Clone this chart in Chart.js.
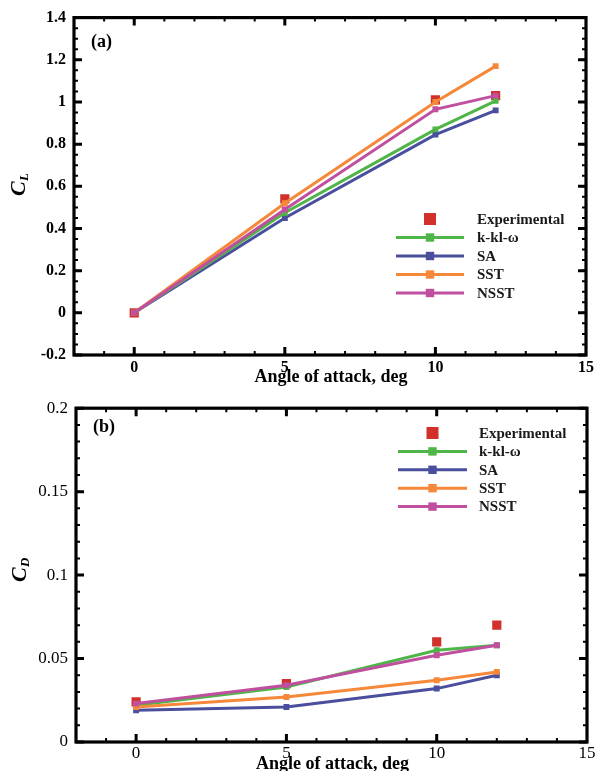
<!DOCTYPE html>
<html>
<head>
<meta charset="utf-8">
<script src="https://cdn.jsdelivr.net/npm/chart.js@4/dist/chart.umd.min.js"></script>
<style>
  html, body { margin: 0; padding: 0; background: #ffffff; }
  #wrap { position: relative; width: 597px; height: 771px; overflow: hidden; }
  canvas { position: absolute; left: 0; }
  #cl { top: 0; }
  #cd { top: 390px; }
</style>
</head>
<body>
<div id="wrap">
  <canvas id="cl" width="597" height="390"></canvas>
  <canvas id="cd" width="597" height="381"></canvas>
</div>
<script>
// Angle of attack (deg)
const alpha = [0, 5, 10, 12];

// Lift coefficient
const clExp  = [0, 0.54, 1.01, 1.03];
const clKkl  = [0, 0.475, 0.87, 1.005];
const clSA   = [0, 0.45, 0.845, 0.96];
const clSST  = [0, 0.52, 1.0, 1.17];
const clNSST = [0, 0.49, 0.965, 1.03];

// Drag coefficient
const cdExp  = [0.024, 0.035, 0.060, 0.070];
const cdKkl  = [0.022, 0.033, 0.055, 0.058];
const cdSA   = [0.019, 0.021, 0.032, 0.040];
const cdSST  = [0.021, 0.027, 0.037, 0.042];
const cdNSST = [0.023, 0.034, 0.052, 0.058];

// Axis ticks
const xTickValues = [0, 5, 10, 15];
const xTickLabels = ['0', '5', '10', '15'];
const clTickValues = [-0.2, 0, 0.2, 0.4, 0.6, 0.8, 1, 1.2, 1.4];
const clTickLabels = ['-0.2', '0', '0.2', '0.4', '0.6', '0.8', '1', '1.2', '1.4'];
const cdTickValues = [0, 0.05, 0.1, 0.15, 0.2];
const cdTickLabels = ['0', '0.05', '0.1', '0.15', '0.2'];

const seriesNames = ['Experimental', 'k-kl-\u03c9', 'SA', 'SST', 'NSST'];
const colors = {
  exp: '#d1302b',
  kkl: '#4fb548',
  sa: '#4a4f9d',
  sst: '#f6883a',
  nsst: '#c04f9f'
};

const SERIF = '"Liberation Serif", "Times New Roman", serif';

function pts(ys) { return alpha.map((x, i) => ({ x: x, y: ys[i] })); }

function lineSet(label, ys, color, order) {
  return {
    label: label, data: pts(ys), borderColor: color, backgroundColor: color,
    borderWidth: 3, pointStyle: 'rect', pointRadius: 4.2, pointBorderWidth: 0,
    showLine: true, order: order
  };
}

function makeDatasets(exp, kkl, sa, sst, nsst) {
  return [
    { label: seriesNames[0], data: pts(exp), backgroundColor: colors.exp, borderColor: colors.exp,
      pointStyle: 'rect', pointRadius: 6.5, pointBorderWidth: 0, showLine: false, order: 5 },
    lineSet(seriesNames[1], kkl, colors.kkl, 3),
    lineSet(seriesNames[2], sa, colors.sa, 4),
    lineSet(seriesNames[3], sst, colors.sst, 2),
    lineSet(seriesNames[4], nsst, colors.nsst, 1)
  ];
}

// Frame, inward tick marks, axis titles, panel tag and legend
const decor = {
  id: 'decor',
  afterDraw(chart, args, o) {
    const ctx = chart.ctx, a = chart.chartArea;
    const xs = chart.scales.x, ys = chart.scales.y;
    ctx.save();
    ctx.strokeStyle = '#000'; ctx.fillStyle = '#000';

    // minor / major ticks on all four sides
    const tick = (len, lw, vals, scale, vertical) => {
      ctx.lineWidth = lw;
      vals.forEach(v => {
        const p = scale.getPixelForValue(v);
        ctx.beginPath();
        if (vertical) {
          ctx.moveTo(p, a.bottom); ctx.lineTo(p, a.bottom - len);
          ctx.moveTo(p, a.top); ctx.lineTo(p, a.top + len);
        } else {
          ctx.moveTo(a.left, p); ctx.lineTo(a.left + len, p);
          ctx.moveTo(a.right, p); ctx.lineTo(a.right - len, p);
        }
        ctx.stroke();
      });
    };
    const xMinor = [];
    for (let v = -1; v < 15; v++) if (v % 5 !== 0) xMinor.push(v);
    const yMinor = [];
    for (let k = 0; ; k++) {
      const v = +(o.yMin + k * o.yMinorStep).toFixed(4);
      if (v > o.yMax) break;
      yMinor.push(v);
    }
    tick(4, 2, xMinor, xs, true);
    tick(4, 2, yMinor, ys, false);
    tick(8, 3, [0, 5, 10], xs, true);
    tick(8, 3, o.yMajor, ys, false);

    // frame
    ctx.lineWidth = 3.2;
    ctx.strokeRect(a.left, a.top, a.right - a.left, a.bottom - a.top);

    // x-axis title
    ctx.font = 'bold 18px ' + SERIF;
    ctx.textAlign = 'center'; ctx.textBaseline = 'middle';
    ctx.fillText('Angle of attack, deg', (a.left + a.right) / 2 + 1, a.bottom + o.xTitleGap);

    // y-axis title with subscript
    ctx.save();
    ctx.translate(o.yTitleX, o.yTitleY);
    ctx.rotate(-Math.PI / 2);
    ctx.textAlign = 'left'; ctx.textBaseline = 'middle';
    ctx.font = 'italic bold 22px ' + SERIF;
    ctx.fillText('C', -10, 0);
    ctx.font = 'italic bold 13px ' + SERIF;
    ctx.fillText(o.sub, 5, 6);
    ctx.restore();

    // panel tag
    ctx.font = 'bold 18px ' + SERIF;
    ctx.textAlign = 'left'; ctx.textBaseline = 'middle';
    ctx.fillText(o.tag, a.left + 17, o.tagY);

    // legend
    const L = o.legend;
    const ds = chart.data.datasets;
    ctx.font = 'bold 15px ' + SERIF;
    ds.forEach((d, i) => {
      const y = L.y + i * L.dy;
      const cx = (L.x0 + L.x1) / 2;
      ctx.fillStyle = d.backgroundColor;
      if (i === 0) {
        ctx.fillRect(cx - 6, y - 6, 12, 12);
      } else {
        ctx.strokeStyle = d.borderColor;
        ctx.lineWidth = 3;
        ctx.beginPath(); ctx.moveTo(L.x0, y); ctx.lineTo(L.x1, y); ctx.stroke();
        ctx.fillRect(cx - 4.2, y - 4.2, 8.4, 8.4);
      }
      ctx.fillStyle = '#1a1a1a';
      ctx.fillText(d.label, L.tx, y + 1);
    });
    ctx.restore();
  }
};

function makeChart(id, datasets, cfg) {
  return new Chart(document.getElementById(id), {
    type: 'scatter',
    data: { datasets: datasets },
    plugins: [decor],
    options: {
      responsive: false, animation: false, devicePixelRatio: 1,
      layout: { padding: { left: 0, top: cfg.padTop, right: 10, bottom: 0 } },
      plugins: { legend: { display: false }, tooltip: { enabled: false }, decor: cfg.decor },
      scales: {
        x: {
          type: 'linear', min: -2, max: 15,
          grid: { display: false, drawTicks: false }, border: { display: false },
          afterBuildTicks: s => { s.ticks = xTickValues.map(v => ({ value: v })); },
          afterFit: s => { s.height = cfg.xHeight; },
          ticks: {
            padding: cfg.xPad, color: '#000', maxRotation: 0, autoSkip: false,
            font: { family: SERIF, size: cfg.tickSize, weight: cfg.tickWeight },
            callback: v => xTickLabels[xTickValues.indexOf(v)]
          }
        },
        y: {
          type: 'linear', min: cfg.yMin, max: cfg.yMax,
          grid: { display: false, drawTicks: false }, border: { display: false },
          afterBuildTicks: s => { s.ticks = cfg.yVals.map(v => ({ value: v })); },
          afterFit: s => { s.width = cfg.yWidth; },
          ticks: {
            padding: 8, color: '#000', autoSkip: false,
            font: { family: SERIF, size: cfg.tickSize, weight: cfg.tickWeight },
            callback: v => cfg.yLabels[cfg.yVals.indexOf(v)]
          }
        }
      }
    }
  });
}

makeChart('cl', makeDatasets(clExp, clKkl, clSA, clSST, clNSST), {
  padTop: 17, xHeight: 35, yWidth: 74, xPad: 3, tickSize: 16, tickWeight: 'bold',
  yMin: -0.2, yMax: 1.4, yVals: clTickValues, yLabels: clTickLabels,
  decor: {
    yMin: -0.2, yMax: 1.4, yMinorStep: 0.05, yMajor: clTickValues,
    xTitleGap: 22, yTitleX: 19, yTitleY: 186, sub: 'L', tag: '(a)', tagY: 42,
    legend: { x0: 396, x1: 464, tx: 477, y: 219, dy: 18.5 }
  }
});

makeChart('cd', makeDatasets(cdExp, cdKkl, cdSA, cdSST, cdNSST), {
  padTop: 14, xHeight: 29, yWidth: 76, xPad: 1, tickSize: 17, tickWeight: 'normal',
  yMin: 0, yMax: 0.2, yVals: cdTickValues, yLabels: cdTickLabels,
  decor: {
    yMin: 0, yMax: 0.2, yMinorStep: 0.01, yMajor: cdTickValues,
    xTitleGap: 22, yTitleX: 20, yTitleY: 182, sub: 'D', tag: '(b)', tagY: 37,
    legend: { x0: 398, x1: 467, tx: 479, y: 43, dy: 18.4 }
  }
});
</script>
</body>
</html>
